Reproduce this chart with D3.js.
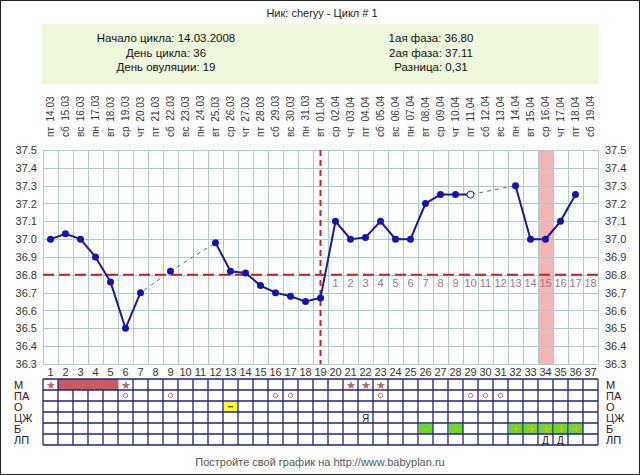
<!DOCTYPE html>
<html><head><meta charset="utf-8">
<script src="https://cdn.jsdelivr.net/npm/d3@7"></script>
<style>
html,body{margin:0;padding:0;background:#fff;}
svg{display:block;font-family:"Liberation Sans",Arial,sans-serif;}
</style></head>
<body>
<svg id="c" width="640" height="475"></svg>
<script>
// ---- data ----
const days = [1,2,3,4,5,6,7,8,9,10,11,12,13,14,15,16,17,18,19,20,21,22,23,24,25,26,27,28,29,30,31,32,33,34,35,36,37];
const weekdays = ["пт","сб","вс","пн","вт","ср","чт","пт","сб","вс","пн","вт","ср","чт","пт","сб","вс","пн","вт","ср","чт","пт","сб","вс","пн","вт","ср","чт","пт","сб","вс","пн","вт","ср","чт","пт","сб"];
const dates = ["14.03","15.03","16.03","17.03","18.03","19.03","20.03","21.03","22.03","23.03","24.03","25.03","26.03","27.03","28.03","29.03","30.03","31.03","01.04","02.04","03.04","04.04","05.04","06.04","07.04","08.04","09.04","10.04","11.04","12.04","13.04","14.04","15.04","16.04","17.04","18.04","19.04"];
const temps = [37.00,37.03,37.00,36.90,36.76,36.50,36.70,null,36.82,null,null,36.98,36.82,36.81,36.74,36.70,36.68,36.65,36.67,37.10,37.00,37.01,37.10,37.00,37.00,37.20,37.25,37.25,37.25,null,null,37.30,37.00,37.00,37.10,37.25,null];
const openDays = [29];
const yTicks = [36.3,36.4,36.5,36.6,36.7,36.8,36.9,37.0,37.1,37.2,37.3,37.4,37.5];
const coverline = 36.8;
const ovulationDay = 19;
const highlightDay = 34;
const postOvDays = [20,21,22,23,24,25,26,27,28,29,30,31,32,33,34,35,36,37];
const postOvLabels = ["1","2","3","4","5","6","7","8","9","10","11","12","13","14","15","16","17","18"];
const rowLabels = ["М","ПА","О","ЦЖ","Б","ЛП"];
const mStars = [1,6,21,22,23];
const mBleed = [2,3,4,5];
const paDays = [6,9,16,17,23,29,30,31];
const oMarks = [{day:13,sym:"-"}];
const czhMarks = [{day:22,sym:"Я"}];
const bMarks = [{day:26,sym:"-"},{day:28,sym:"-"},{day:32,sym:"+"},{day:33,sym:"+"},{day:34,sym:"+"},{day:35,sym:"+"},{day:36,sym:"+"}];
const lpMarks = [{day:34,sym:"Д"},{day:35,sym:"Д"}];
const infoLeft = ["Начало цикла: 14.03.2008","День цикла: 36","День овуляции: 19"];
const infoRight = ["1ая фаза: 36.80","2ая фаза: 37.11","Разница: 0,31"];
const title = "Ник: cheryy - Цикл # 1";
const footer = "Постройте свой график на http://www.babyplan.ru";

// ---- layout ----
const svg = d3.select("#c");
const L = 43, R = 598, T = 150, B = 364;
const x = d3.scaleBand().domain(days).range([L, R]).padding(0);
const y = d3.scaleLinear().domain([36.3, 37.5]).range([B, T]);
const cx = d => x(d) + x.bandwidth()/2;

// frame
svg.append("rect").attr("x",0.5).attr("y",0.5).attr("width",639).attr("height",474)
  .attr("fill","#fff").attr("stroke","#222").attr("stroke-width",1);

// title
svg.append("text").attr("x",322).attr("y",17).attr("text-anchor","middle")
  .attr("font-size",11).attr("fill","#222").text(title);

// info box
svg.append("rect").attr("x",42).attr("y",24).attr("width",557).attr("height",60).attr("fill","#eef8dc");
infoLeft.forEach((t,i)=>svg.append("text").attr("x",166).attr("y",42+i*14.5).attr("text-anchor","middle")
  .attr("font-size",11.5).attr("fill","#111").text(t));
infoRight.forEach((t,i)=>svg.append("text").attr("x",431).attr("y",42+i*14.5).attr("text-anchor","middle")
  .attr("font-size",11.5).attr("fill","#111").text(t));

// date labels (rotated)
const dl = svg.append("g");
days.forEach((d,i)=>{
  dl.append("text").attr("transform",`translate(${cx(d)+3.5},137) rotate(-90)`)
    .attr("font-size",10).attr("fill","#333").attr("xml:space","preserve")
    .text(weekdays[i]+"  "+dates[i]);
});

// highlight band
svg.append("rect").attr("x",x(highlightDay)).attr("y",T).attr("width",x.bandwidth()).attr("height",B-T)
  .attr("fill","#f5b5b5");

// grid
const grid = svg.append("g").attr("stroke","#a9cccc").attr("stroke-width",1);
days.concat([38]).forEach((d,i)=>{
  const xx = Math.round(L + i*x.bandwidth()) + 0.5;
  grid.append("line").attr("x1",xx).attr("x2",xx).attr("y1",T).attr("y2",B);
});
yTicks.forEach(v=>{
  const yy = Math.round(y(v))+0.5;
  grid.append("line").attr("x1",L).attr("x2",R).attr("y1",yy).attr("y2",yy);
});

// axes labels
const ax = d3.axisLeft(y).tickValues(yTicks).tickSize(0).tickPadding(6).tickFormat(d3.format(".1f"));
const gl = svg.append("g").attr("transform",`translate(${L},0)`).call(ax);
gl.select(".domain").remove();
gl.selectAll("text").attr("font-size",11).attr("fill","#333").attr("font-family","Liberation Sans, Arial, sans-serif");
const ar = d3.axisRight(y).tickValues(yTicks).tickSize(0).tickPadding(7).tickFormat(d3.format(".1f"));
const gr = svg.append("g").attr("transform",`translate(${R},0)`).call(ar);
gr.select(".domain").remove();
gr.selectAll("text").attr("font-size",11).attr("fill","#333").attr("font-family","Liberation Sans, Arial, sans-serif");

// post-ovulation day labels
postOvDays.forEach((d,i)=>{
  svg.append("text").attr("x",cx(d)).attr("y",y(coverline)+12).attr("text-anchor","middle")
    .attr("font-size",11).attr("fill","#a07585").text(postOvLabels[i]);
});

// coverline
svg.append("line").attr("x1",L).attr("x2",R).attr("y1",y(coverline)).attr("y2",y(coverline))
  .attr("stroke","#cc2020").attr("stroke-width",2).attr("stroke-dasharray","11,5");
// ovulation line
svg.append("line").attr("x1",cx(ovulationDay)).attr("x2",cx(ovulationDay)).attr("y1",T).attr("y2",B)
  .attr("stroke","#cc2020").attr("stroke-width",2).attr("stroke-dasharray","6,4");

// temperature lines
const pts = days.map((d,i)=>({d, v:temps[i]}));
const defined = pts.filter(p=>p.v!==null);
svg.append("path").datum(defined)
  .attr("d", d3.line().x(p=>cx(p.d)).y(p=>y(p.v)))
  .attr("fill","none").attr("stroke","#5a6a90").attr("stroke-width",1).attr("stroke-dasharray","4,4");
svg.append("path").datum(pts)
  .attr("d", d3.line().defined(p=>p.v!==null).x(p=>cx(p.d)).y(p=>y(p.v)))
  .attr("fill","none").attr("stroke","#1a1aa0").attr("stroke-width",2);
svg.append("g").selectAll("circle").data(defined).join("circle")
  .attr("cx",p=>cx(p.d)).attr("cy",p=>y(p.v)).attr("r",3.5)
  .attr("fill",p=>openDays.includes(p.d)?"#fff":"#1414b4")
  .attr("stroke",p=>openDays.includes(p.d)?"#1a1aa0":"none").attr("stroke-width",1);

// day numbers
days.forEach(d=>{
  svg.append("text").attr("x",cx(d)).attr("y",376).attr("text-anchor","middle")
    .attr("font-size",11).attr("fill","#333").text(d);
});

// table
const TT = 379, rh = 11;
const rowY = r => TT + r*rh;
const tb = svg.append("g");
// cell fills
mBleed.forEach(d=>tb.append("rect").attr("x",x(d)).attr("y",rowY(0)).attr("width",x.bandwidth()+0.5).attr("height",rh).attr("fill","#cc5a5a"));
oMarks.forEach(m=>tb.append("rect").attr("x",x(m.day)+1).attr("y",rowY(2)+1).attr("width",x.bandwidth()-1).attr("height",rh-1).attr("fill","#ffff22"));
bMarks.forEach(m=>tb.append("rect").attr("x",x(m.day)+1).attr("y",rowY(4)+1).attr("width",x.bandwidth()-1).attr("height",rh-1).attr("fill","#66dd22"));
// grid
const tg = tb.append("g").attr("stroke","#22227a").attr("stroke-width",1.3);
for(let r=0;r<=rowLabels.length;r++){
  tg.append("line").attr("x1",L).attr("x2",R).attr("y1",rowY(r)).attr("y2",rowY(r));
}
days.concat([38]).forEach((d,i)=>{
  const xx = L + i*x.bandwidth();
  const top = (i>=2 && i<=5) ? rowY(1) : rowY(0);
  tg.append("line").attr("x1",xx).attr("x2",xx).attr("y1",top).attr("y2",rowY(6));
});
// symbols
mStars.forEach(d=>tb.append("text").attr("x",cx(d)).attr("y",rowY(0)+10).attr("text-anchor","middle")
  .attr("font-size",11).attr("fill","#b06a6a").text("★"));
paDays.forEach(d=>tb.append("circle").attr("cx",cx(d)).attr("cy",rowY(1)+5.5).attr("r",2.2)
  .attr("fill","none").attr("stroke","#c07070").attr("stroke-width",1));
oMarks.forEach(m=>tb.append("rect").attr("x",cx(m.day)-2.5).attr("y",rowY(2)+5).attr("width",5).attr("height",1.3).attr("fill","#444"));
czhMarks.forEach(m=>tb.append("text").attr("x",cx(m.day)).attr("y",rowY(3)+9.5).attr("text-anchor","middle")
  .attr("font-size",10).attr("fill","#222").text(m.sym));
bMarks.forEach(m=>tb.append("text").attr("x",cx(m.day)).attr("y",rowY(4)+9.5).attr("text-anchor","middle")
  .attr("font-size",12).attr("font-weight","bold").attr("fill","#e8a838").text(m.sym));
lpMarks.forEach(m=>tb.append("text").attr("x",cx(m.day)).attr("y",rowY(5)+9.5).attr("text-anchor","middle")
  .attr("font-size",10).attr("fill","#222").text(m.sym));
// row labels
rowLabels.forEach((t,i)=>{
  svg.append("text").attr("x",14).attr("y",rowY(i)+9.5).attr("font-size",11).attr("fill","#222").text(t);
  svg.append("text").attr("x",606).attr("y",rowY(i)+9.5).attr("font-size",11).attr("fill","#222").text(t);
});

// footer
svg.append("text").attr("x",320).attr("y",466).attr("text-anchor","middle")
  .attr("font-size",11).attr("fill","#555").text(footer);
</script>
</body></html>
